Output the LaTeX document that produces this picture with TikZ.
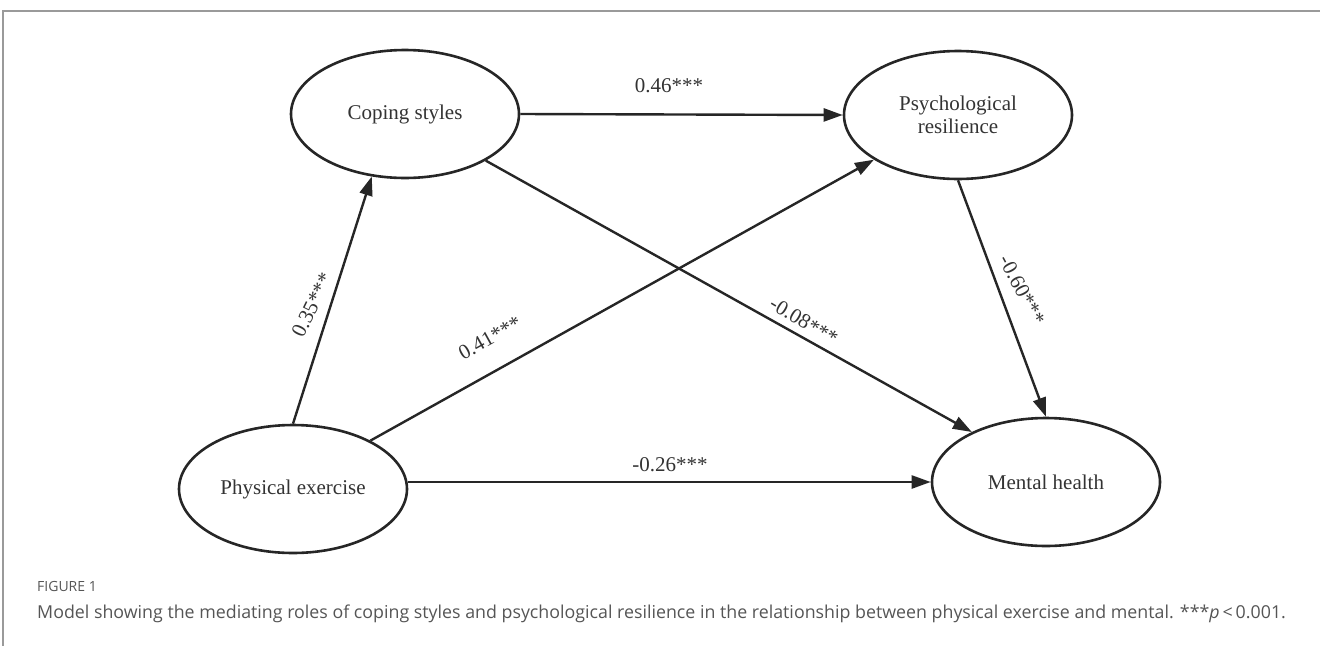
\documentclass[tikz,border=0pt]{standalone}
\usepackage{fontspec}
\setmainfont{Liberation Serif}
\newfontfamily\capfont{Open Sans}
\usetikzlibrary{arrows.meta,shapes.geometric}
\definecolor{txt}{HTML}{333333}
\definecolor{frame}{HTML}{9A9A9A}
\definecolor{captxt}{HTML}{555555}
\tikzset{
  latent/.style={ellipse, draw=black!85, line width=2.6pt, inner sep=0pt,
    minimum width=228pt, minimum height=128pt, align=center,
    font=\fontsize{21}{25}\selectfont, text=txt},
  path/.style={draw=black!85, line width=2.4pt,
    -{Triangle[length=19pt,width=13pt]}},
  coef/.style={font=\fontsize{21}{25}\selectfont, text=txt, inner sep=1pt}
}
\begin{document}
\begin{tikzpicture}[x=1pt,y=-1pt]
\useasboundingbox (0,0) rectangle (1320,646);
% frame
\draw[frame, line width=1.6pt] (1320,11) -- (3,11) -- (3,646);
% nodes
\node[latent] (cs) at (405,114) {Coping styles};
\node[latent] (pr) at (958,115) {Psychological\\[-2pt]resilience};
\node[latent] (pe) at (293,489) {Physical exercise};
\node[latent] (mh) at (1046,482) {Mental health};
% paths
\draw[path] (cs.east) -- (pr.west);
\draw[path] (pe.north) -- (cs.242);
\draw[path] (pe.32) -- (pr.208);
\draw[path] (cs.330) -- (mh.146);
\draw[path] (pr.south) -- (mh.north);
\draw[path] (pe.east |- mh.west) -- (mh.west);
% coefficients
\node[coef] (c1) at (669,86) {0.46***};
\node[coef, rotate=64] (c2) at (312,305) {0.35***};
\node[coef, rotate=29] (c3) at (490,338) {0.41***};
\node[coef, rotate=-31] (c4) at (804,321) {-0.08***};
\node[coef, rotate=-62] (c5) at (1022,290) {-0.60***};
\node[coef] (c6) at (670,465) {-0.26***};
% caption
\node[anchor=west, inner sep=0pt, text=captxt, font=\capfont\fontsize{14}{16}\selectfont] (fig) at (37,586) {FIGURE 1};
\node[anchor=west, inner sep=0pt, text=captxt, font=\capfont\fontsize{17.8}{21}\selectfont] (cap) at (37,614) {Model showing the mediating roles of coping styles and psychological resilience in the relationship between physical exercise and mental. ***\textit{p}\,<\,0.001.};
\end{tikzpicture}
\end{document}
